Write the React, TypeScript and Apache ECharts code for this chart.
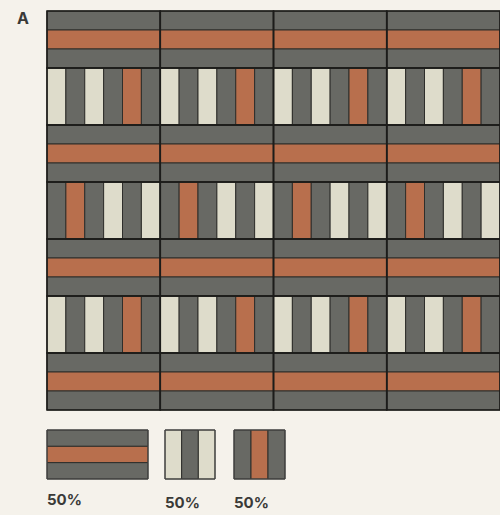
import React, { useEffect, useRef } from "react";
import * as echarts from "echarts";

// Pattern data
const colors: Record<string, string> = {
  gray: "#686964",
  orange: "#b86f4d",
  cream: "#dedccb",
};
const rowTypes = ["h", "vA", "h", "vB", "h", "vA", "h"];
const horizontalStripes = ["gray", "orange", "gray"];
const verticalPatternA = ["cream", "gray", "cream", "gray", "orange", "gray"];
const verticalPatternB = ["gray", "orange", "gray", "cream", "gray", "cream"];
const columnCount = 4;
const legendStripes = [
  ["gray", "orange", "gray"],
  ["cream", "gray", "cream"],
  ["gray", "orange", "gray"],
];
const legendOrientation = ["h", "v", "v"];
const legendLabels = ["50%", "50%", "50%"];
const panelLabel = "A";

const UNIT_W = 6; // stripes per block horizontally
const UNIT_H = 3; // stripes per block vertically

function buildData() {
  const stripes: any[] = [];
  const blocks: any[] = [];
  rowTypes.forEach((t, r) => {
    const y0 = r * UNIT_H;
    for (let c = 0; c < columnCount; c++) {
      const x0 = c * UNIT_W;
      if (t === "h") {
        horizontalStripes.forEach((col, i) => {
          stripes.push([x0, y0 + i, x0 + UNIT_W, y0 + i + 1, col]);
        });
      } else {
        const pat = t === "vA" ? verticalPatternA : verticalPatternB;
        pat.forEach((col, i) => {
          stripes.push([x0 + i, y0, x0 + i + 1, y0 + UNIT_H, col]);
        });
      }
      blocks.push([x0, y0, x0 + UNIT_W, y0 + UNIT_H]);
    }
  });
  return { stripes, blocks };
}

export default function App() {
  const ref = useRef<HTMLDivElement>(null);
  useEffect(() => {
    document.body.style.margin = "0";
    const chart = echarts.init(ref.current!, null, { renderer: "svg" });
    const { stripes, blocks } = buildData();

    const legendX = [47, 165, 234];
    const legendW = [101, 50, 51];
    const legendY = 430;
    const legendH = 49;
    const labelY = [492, 495, 495];
    const graphics: any[] = [];
    legendStripes.forEach((st, k) => {
      const children: any[] = [];
      const n = st.length;
      st.forEach((col, i) => {
        if (legendOrientation[k] === "h") {
          const h = legendH / n;
          children.push({
            type: "rect",
            shape: { x: 0, y: i * h, width: legendW[k], height: h },
            style: { fill: colors[col], stroke: "#2e2e2b", lineWidth: 1 },
          });
        } else {
          const w = legendW[k] / n;
          children.push({
            type: "rect",
            shape: { x: i * w, y: 0, width: w, height: legendH },
            style: { fill: colors[col], stroke: "#2e2e2b", lineWidth: 1 },
          });
        }
      });
      children.push({
        type: "rect",
        shape: { x: 0, y: 0, width: legendW[k], height: legendH },
        style: { fill: "none", stroke: "#444", lineWidth: 1 },
      });
      graphics.push({ type: "group", x: legendX[k], y: legendY, children });
      graphics.push({
        type: "text",
        x: legendX[k],
        y: labelY[k],
        style: {
          text: legendLabels[k],
          font: "bold 15px Inter, 'DejaVu Sans', sans-serif",
          fill: "#3a3a38",
          textVerticalAlign: "top",
        },
      });
    });
    graphics.push({
      type: "text",
      x: 17,
      y: 10,
      style: {
        text: panelLabel,
        font: "bold 16px Inter, 'DejaVu Sans', sans-serif",
        fill: "#3a3a38",
        textVerticalAlign: "top",
      },
    });

    const rectItem = (params: any, api: any, fill: string, stroke: string, lw: number) => {
      const p0 = api.coord([api.value(0), api.value(1)]);
      const p1 = api.coord([api.value(2), api.value(3)]);
      return {
        type: "rect",
        shape: { x: p0[0], y: p0[1], width: p1[0] - p0[0], height: p1[1] - p0[1] },
        style: { fill, stroke, lineWidth: lw },
      };
    };

    chart.setOption({
      animation: false,
      backgroundColor: "#f5f2eb",
      grid: { left: 47, top: 11, width: 458, height: 399 },
      xAxis: { type: "value", min: 0, max: columnCount * UNIT_W, show: false },
      yAxis: { type: "value", min: 0, max: rowTypes.length * UNIT_H, inverse: true, show: false },
      series: [
        {
          type: "custom",
          clip: false,
          data: stripes,
          renderItem: (params: any, api: any) =>
            rectItem(params, api, colors[stripes[params.dataIndex][4]], "#2e2e2b", 1),
        },
        {
          type: "custom",
          clip: false,
          data: blocks,
          renderItem: (params: any, api: any) => rectItem(params, api, "none", "#1c1c1a", 1.6),
        },
      ],
      graphic: graphics,
    });
    return () => chart.dispose();
  }, []);
  return (
    <div
      ref={ref}
      style={{ position: "fixed", left: 0, top: 0, width: 500, height: 515, background: "#f5f2eb" }}
    />
  );
}
